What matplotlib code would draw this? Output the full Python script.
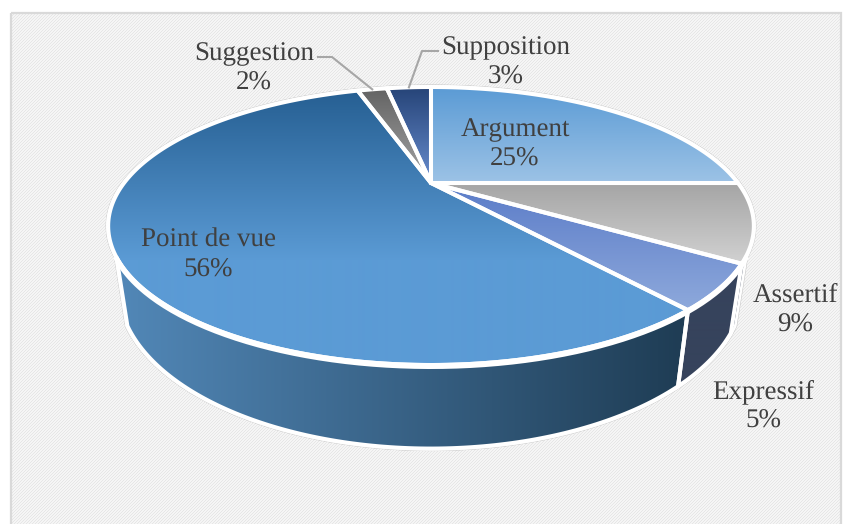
#!/usr/bin/python
import numpy as np
import matplotlib.pyplot as plt
from matplotlib.colors import to_rgb
from matplotlib.patches import Polygon, Rectangle

labels = ['Argument', 'Assertif', 'Expressif', 'Point de vue', 'Suggestion', 'Supposition']
values = [25, 9, 5, 56, 2, 3]

top_colors = [('#5b9bd5', '#9dc3e6'), ('#a5a5a5', '#d2d2d2'), ('#5b7cc8', '#8faadc'),
	('#255e91', '#5b9bd5'), ('#636363', '#a5a5a5'), ('#264478', '#698ed0')]
label_pos = [(515, 136), (795, 302), (763, 398), (208, 247), (254, 60), (506, 54)]

W, H = 843, 524
CX = 431
TEXT = '#404040'
STROKE = 2.9
LINE_STEP = 30
V_EDGE = -0.5	# the side wall shows below this depth on the disc


def project(theta, k, a, b, c):
	u, v = np.cos(theta), np.sin(theta)
	w = 1 + c*v
	return CX + k*u/w, (a*v + b)/w


def rim_top(theta):
	return project(theta, 307, -69.08, 183, 0.3094)


def rim_low(theta):
	return project(theta, 298, -74, 240, 0.30)


def gradient(ax, poly, stops, horizontal=False, x0=0, x1=W, y0=0, y1=H):
	# stops are painted between the given bounds and clipped to the polygon
	c0, c1 = np.array(to_rgb(stops[0])), np.array(to_rgb(stops[1]))
	if horizontal:
		t = np.clip((np.arange(W) - x0)/(x1 - x0), 0, 1)[None, :, None]
	else:
		t = np.clip((np.arange(H) - y0)/(y1 - y0), 0, 1)[:, None, None]
	img = ax.imshow(c0 + (c1 - c0)*t, extent=(0, W, H, 0), aspect='auto', zorder=3, interpolation='bilinear')
	patch = Polygon(poly, closed=True, transform=ax.transData, fc='none', ec='none')
	ax.add_patch(patch)
	img.set_clip_path(patch)


def main():
	plt.rcParams['text.hinting'] = 'no_hinting'
	plt.rcParams['text.hinting_factor'] = 1
	fig = plt.figure(figsize=(W/100, H/100), dpi=100)
	ax = fig.add_axes([0, 0, 1, 1])

	# woven background of the plot area
	yy, xx = np.mgrid[0:H, 0:W]
	tex = np.where((xx + yy) % 3 == 0, 0.90, 0.96)
	ax.imshow(tex, extent=(0, W, H, 0), cmap='gray', vmin=0, vmax=1, aspect='auto', zorder=0, interpolation='nearest')
	mask = np.ones((H, W, 4))
	mask[13:, 11:841, 3] = 0
	ax.imshow(mask, extent=(0, W, H, 0), aspect='auto', zorder=1, interpolation='nearest')
	ax.add_patch(Rectangle((11, 13), 830, 530, fc='none', ec='#d9d9d9', lw=1.6, zorder=2))

	fractions = np.array(values)/sum(values)
	edges = np.pi/2 - 2*np.pi*np.concatenate(([0], np.cumsum(fractions)))
	lim_r, lim_l = np.arcsin(V_EDGE), np.pi - np.arcsin(V_EDGE) - 2*np.pi

	# outer silhouette
	back = np.linspace(lim_l + 2*np.pi, lim_r, 300)
	front = np.linspace(lim_r, lim_l, 200)
	sx = np.concatenate((rim_top(back)[0], rim_low(front)[0]))
	sy = np.concatenate((rim_top(back)[1], rim_low(front)[1]))
	sil = np.column_stack((sx, sy))
	ax.add_patch(Polygon(sil, closed=True, fc='white', ec='#c4c4c4', lw=3.6, zorder=2.5))
	ax.add_patch(Polygon(sil, closed=True, fc='white', ec='white', lw=2.9, zorder=2.6))

	# side walls
	side_stops = {1: ('#2f3b52', '#2f3b52'), 2: ('#3e4c68', '#36435c'), 3: ('#5288b8', '#1f3d55')}
	for i, stops in side_stops.items():
		t1 = min(edges[i], lim_r)
		t2 = max(edges[i + 1], lim_l)
		if t1 <= t2:
			continue
		t = np.linspace(t1, t2, 120)
		xt, yt = rim_top(t)
		xl, yl = rim_low(t[::-1])
		poly = np.column_stack((np.concatenate((xt, xl)), np.concatenate((yt, yl))))
		gradient(ax, poly, stops, horizontal=True, x0=115, x1=680)
		lw = 1.0 if i == 1 else STROKE
		ax.add_patch(Polygon(poly, closed=True, fc='none', ec='white', lw=lw, zorder=4))

	# top face wedges
	bounds = [(87, 183), (183, 264), (183, 312), (87, 260), (87, 183), (87, 183)]
	for i in range(len(values)):
		t = np.linspace(edges[i], edges[i + 1], 200)
		xt, yt = rim_top(t)
		poly = np.column_stack((np.concatenate(([CX], xt)), np.concatenate(([183], yt))))
		gradient(ax, poly, top_colors[i], y0=bounds[i][0], y1=bounds[i][1])
		ax.add_patch(Polygon(poly, closed=True, fc='none', ec='white', lw=STROKE, joinstyle='round', zorder=4))

	# white band between the top face and the front wall
	t = np.linspace(lim_r, lim_l, 200)
	xt, yt = rim_top(t)
	ax.plot(xt, yt + 1.5, color='white', lw=3.6, zorder=4.5)

	# leader lines for the two thin slices
	for i, elbow in ((4, [(318, 57), (332, 57)]), (5, [(438, 51), (422, 51)])):
		mid = (edges[i] + edges[i + 1])/2
		ex, ey = rim_top(mid)
		pts = np.array(elbow + [(ex, ey)])
		ax.plot(pts[:, 0], pts[:, 1], color='#a6a6a6', lw=1.5, zorder=5)

	for name, val, pos in zip(labels, values, label_pos):
		ax.text(pos[0], pos[1], name, ha='center', va='baseline',
			family='Liberation Serif', fontsize=19.5, color=TEXT, zorder=6)
		ax.text(pos[0], pos[1] + LINE_STEP, '%d%%' % val, ha='center', va='baseline',
			family='Liberation Serif', fontsize=19.5, color=TEXT, zorder=6)

	ax.set_xlim(0, W)
	ax.set_ylim(H, 0)
	ax.axis('off')
	fig.savefig('out.png', dpi=100)


if __name__ == "__main__":
	main()
